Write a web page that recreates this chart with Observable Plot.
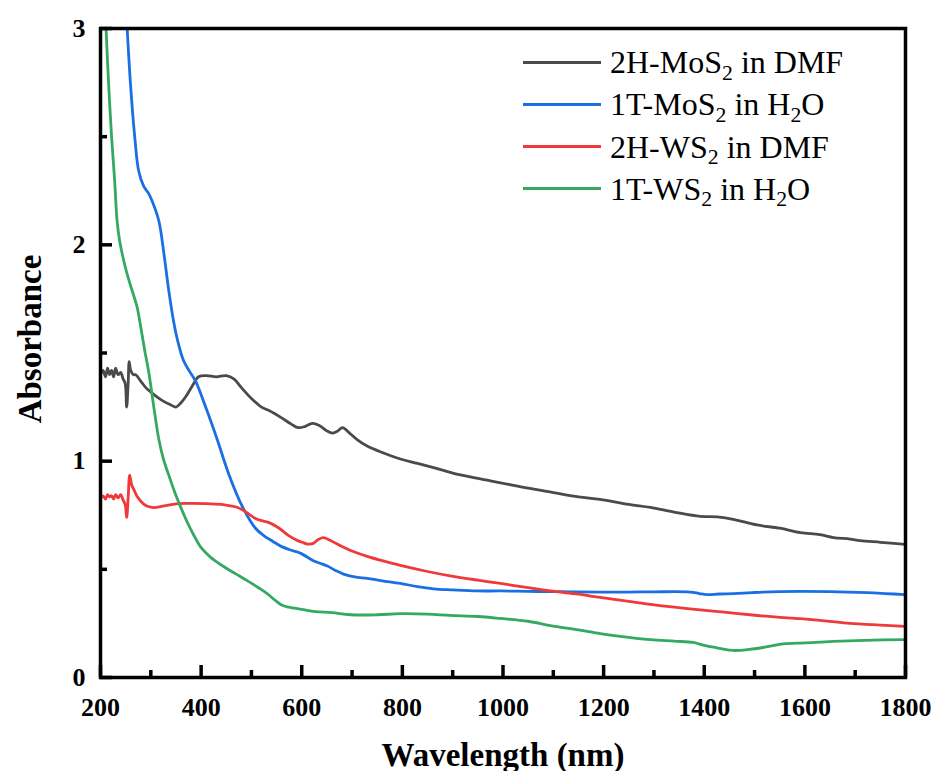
<!DOCTYPE html>
<html>
<head>
<meta charset="utf-8">
<script src="https://cdn.jsdelivr.net/npm/d3@7"></script>
<script src="https://cdn.jsdelivr.net/npm/@observablehq/plot@0.6"></script>
<style>
  html, body { margin: 0; padding: 0; background: #fff; }
  #wrap { position: relative; width: 936px; height: 771px; overflow: hidden; }
  #legend { position: absolute; left: 0; top: 0; font-family: "Liberation Serif", "Times New Roman", serif; font-size: 32px; color: #000; }
  .row { position: absolute; left: 523px; width: 400px; height: 42px; }
  .sw { position: absolute; left: 0; width: 78px; height: 3px; top: 19.5px; }
  .lab { position: absolute; left: 87px; top: 5px; line-height: 32px; white-space: nowrap; }
  .lab sub { font-size: 0.68em; vertical-align: baseline; position: relative; top: 0.3em; line-height: 0; }
</style>
</head>
<body>
<div id="wrap"><div id="legend"></div></div>
<script>
// ---- data ----
const seriesNames = ["2H-MoS2 in DMF", "1T-MoS2 in H2O", "2H-WS2 in DMF", "1T-WS2 in H2O"];
const seriesColors = ["#4a4a4a", "#1a6fe3", "#f0393a", "#35a862"];

const mos2_2h_wl = [200,205,210,214,218,222,226,230,235,240,245,249,252,255,257,260,265,270,280,290,305,323,340,350,360,370,383,395,410,430,450,465,480,500,520,534,560,580,593,606,621,635,650,661,672,681,695,710,730,760,796,830,862,900,950,995,1050,1100,1150,1193,1250,1293,1340,1392,1426,1460,1505,1550,1591,1630,1657,1690,1710,1750,1800];
const mos2_2h_abs = [1.40,1.42,1.39,1.43,1.40,1.42,1.39,1.43,1.40,1.41,1.38,1.36,1.25,1.36,1.46,1.42,1.40,1.40,1.37,1.34,1.31,1.28,1.26,1.25,1.27,1.30,1.35,1.39,1.395,1.39,1.395,1.38,1.34,1.29,1.25,1.235,1.20,1.17,1.155,1.16,1.175,1.165,1.14,1.13,1.14,1.155,1.13,1.10,1.07,1.04,1.01,0.99,0.97,0.945,0.92,0.90,0.875,0.855,0.835,0.823,0.80,0.786,0.765,0.745,0.742,0.73,0.705,0.69,0.67,0.66,0.647,0.64,0.633,0.625,0.615];

const mos2_1t_wl = [253,260,268,276,286,295,303,316,326,335,345,353,365,377,389,409,432,455,482,508,525,542,560,581,597,623,640,651,667,683,705,730,760,796,830,862,900,950,995,1050,1100,1193,1250,1300,1372,1390,1406,1430,1458,1500,1550,1591,1650,1724,1760,1800];
const mos2_1t_abs = [3.0,2.73,2.5,2.34,2.27,2.24,2.2,2.11,1.96,1.80,1.65,1.56,1.465,1.415,1.37,1.25,1.10,0.94,0.79,0.69,0.655,0.63,0.605,0.587,0.575,0.54,0.525,0.515,0.495,0.478,0.465,0.458,0.447,0.435,0.42,0.41,0.405,0.40,0.40,0.398,0.397,0.395,0.395,0.396,0.395,0.388,0.383,0.386,0.388,0.393,0.397,0.398,0.397,0.392,0.388,0.383];

const ws2_2h_wl = [200,205,210,214,218,222,226,230,235,240,245,249,252,255,258,262,266,272,280,290,300,310,330,355,380,410,440,455,470,482,495,508,520,534,555,574,590,601,612,623,633,643,660,680,697,730,760,796,850,895,950,995,1050,1094,1150,1193,1250,1293,1340,1392,1440,1491,1540,1591,1640,1690,1750,1800];
const ws2_2h_abs = [0.83,0.84,0.825,0.845,0.835,0.84,0.825,0.845,0.83,0.845,0.82,0.80,0.74,0.83,0.935,0.89,0.87,0.84,0.815,0.795,0.787,0.786,0.795,0.804,0.805,0.804,0.80,0.795,0.788,0.775,0.755,0.735,0.725,0.717,0.69,0.656,0.635,0.625,0.617,0.62,0.638,0.647,0.63,0.605,0.587,0.56,0.54,0.518,0.49,0.47,0.45,0.435,0.415,0.40,0.385,0.37,0.352,0.338,0.325,0.313,0.302,0.29,0.28,0.272,0.262,0.25,0.242,0.236];

const ws2_1t_wl = [211,216,222,228,233,238,243,249,256,264,273,280,288,296,306,316,325,335,347,359,372,385,400,419,440,468,490,514,530,548,560,574,600,627,660,697,750,796,850,895,950,995,1050,1094,1150,1193,1233,1293,1340,1378,1400,1430,1458,1490,1520,1557,1600,1656,1720,1800];
const ws2_1t_abs = [3.0,2.75,2.5,2.3,2.11,2.02,1.96,1.90,1.84,1.78,1.71,1.62,1.51,1.41,1.25,1.10,1.01,0.94,0.86,0.79,0.72,0.66,0.60,0.555,0.52,0.48,0.45,0.415,0.39,0.355,0.335,0.325,0.315,0.305,0.30,0.29,0.29,0.295,0.293,0.287,0.282,0.273,0.26,0.24,0.22,0.203,0.19,0.175,0.168,0.162,0.148,0.135,0.125,0.13,0.14,0.155,0.16,0.167,0.172,0.175];

const xMajorTicks = [200,400,600,800,1000,1200,1400,1600,1800];
const xMinorTicks = [300,500,700,900,1100,1300,1500,1700];
const yMajorTicks = [0,1,2,3];
const yMinorTicks = [0.5,1.5,2.5];
const xTitle = "Wavelength (nm)";
const yTitle = "Absorbance";

// ---- build table ----
const wls = [mos2_2h_wl, mos2_1t_wl, ws2_2h_wl, ws2_1t_wl];
const abss = [mos2_2h_abs, mos2_1t_abs, ws2_2h_abs, ws2_1t_abs];
const rows = [];
seriesNames.forEach((name, i) => {
  wls[i].forEach((w, j) => rows.push({series: name, wl: w, abs: abss[i][j]}));
});

const font = '"Liberation Serif", "Times New Roman", serif';

const W = 936, H = 771, mL = 100, mR = 31, mT = 28, mB = 94;
const frameW = W - mL - mR, frameH = H - mT - mB;
const majorLen = 12, minorLen = 7;

const chart = Plot.plot({
  width: W,
  height: H,
  marginLeft: mL,
  marginRight: mR,
  marginTop: mT,
  marginBottom: mB,
  style: {fontFamily: font, fontSize: "26px", fontWeight: "bold", background: "#fff", color: "#000", overflow: "visible"},
  x: {domain: [200, 1800]},
  y: {domain: [0, 3]},
  color: {domain: seriesNames, range: seriesColors},
  marks: [
    Plot.line(rows, {x: "wl", y: "abs", z: "series", stroke: "series", strokeWidth: 2.8, curve: "catmull-rom", clip: true}),
    // inward ticks (bottom and left only)
    Plot.tickX(xMajorTicks, {x: d => d, insetTop: frameH - majorLen, stroke: "#000", strokeWidth: 3.5}),
    Plot.tickX(xMinorTicks, {x: d => d, insetTop: frameH - minorLen, stroke: "#000", strokeWidth: 3.5}),
    Plot.tickY(yMajorTicks, {y: d => d, insetRight: frameW - majorLen, stroke: "#000", strokeWidth: 3.5}),
    Plot.tickY(yMinorTicks, {y: d => d, insetRight: frameW - minorLen, stroke: "#000", strokeWidth: 3.5}),
    // tick labels
    Plot.axisX({ticks: xMajorTicks, tickSize: 0, tickPadding: 20, tickFormat: d => String(d), label: null, fontSize: 26, fontWeight: "bold"}),
    Plot.axisY({ticks: yMajorTicks, tickSize: 0, tickPadding: 15, tickFormat: d => String(d), label: null, fontSize: 26, fontWeight: "bold"}),
    Plot.frame({stroke: "#000", strokeWidth: 3.5}),
    // axis titles
    Plot.text([xTitle], {frameAnchor: "bottom", dy: 78, fontSize: 33, fontWeight: "bold", lineAnchor: "middle", textAnchor: "middle"}),
    Plot.text([yTitle], {frameAnchor: "left", dx: -70, dy: -14, rotate: -90, fontSize: 33, fontWeight: "bold", lineAnchor: "middle", textAnchor: "middle"})
  ]
});
document.getElementById("wrap").prepend(chart);

// ---- legend (HTML overlay inside the plot frame) ----
const legendLabels = [
  "2H-MoS<sub>2</sub> in DMF",
  "1T-MoS<sub>2</sub> in H<sub>2</sub>O",
  "2H-WS<sub>2</sub> in DMF",
  "1T-WS<sub>2</sub> in H<sub>2</sub>O"
];
const legend = document.getElementById("legend");
legendLabels.forEach((lab, i) => {
  const r = document.createElement("div");
  r.className = "row";
  r.style.top = (41 + 42.3 * i) + "px";
  const sw = document.createElement("div");
  sw.className = "sw";
  sw.style.background = seriesColors[i];
  const t = document.createElement("div");
  t.className = "lab";
  t.innerHTML = lab;
  r.appendChild(sw); r.appendChild(t);
  legend.appendChild(r);
});
</script>
</body>
</html>
